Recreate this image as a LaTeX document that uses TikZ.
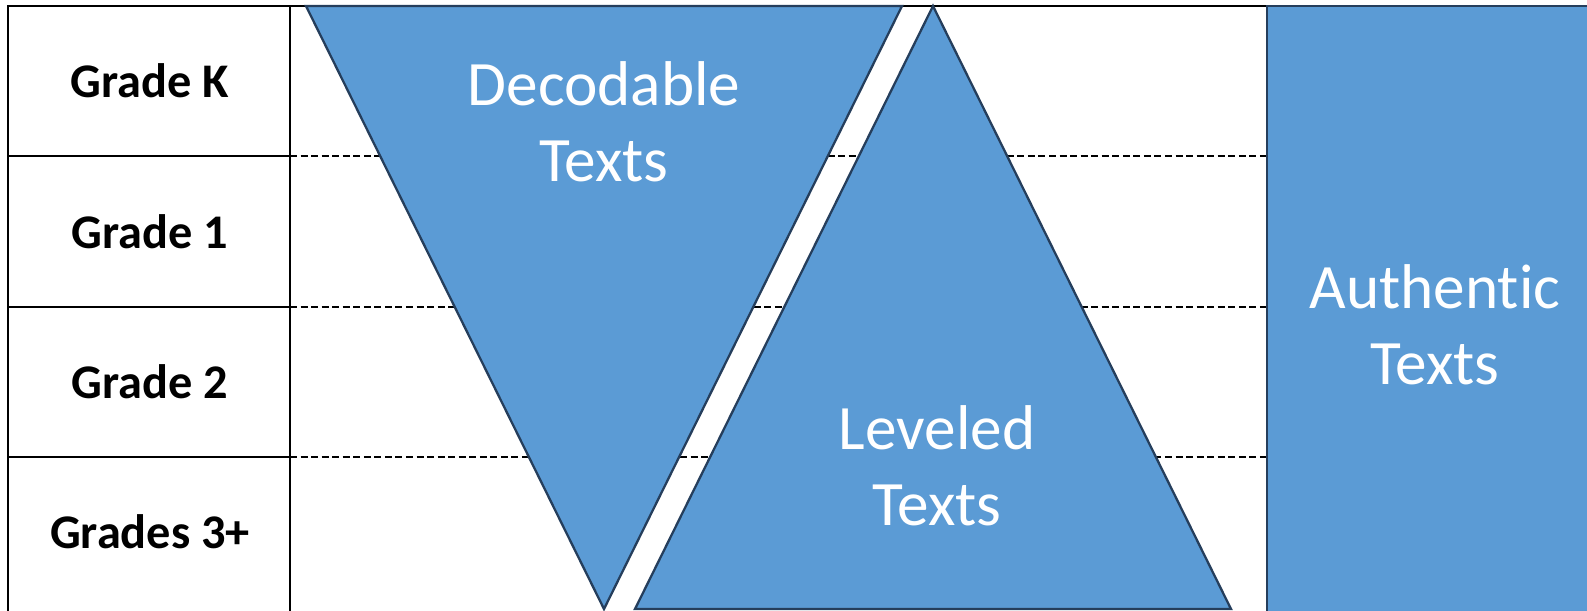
\documentclass[tikz,border=0pt]{standalone}
\usepackage{fontspec}
\setmainfont{Carlito}[Ligatures=NoCommon]
\usetikzlibrary{positioning}
\definecolor{bandblue}{RGB}{91,155,213}
\definecolor{edgeblue}{RGB}{37,62,92}

\begin{document}
\begin{tikzpicture}[x=0.02cm, y=-0.02cm,
    gridline/.style={black, line width=1.3pt},
    levelline/.style={black, line width=1.4pt, dash pattern=on 4pt off 2pt},
    band/.style={fill=bandblue, draw=edgeblue, line width=1.3pt},
    grade/.style={font=\fontsize{27.5}{32}\selectfont\bfseries},
    bandlabel/.style={text=white, align=center, font=\fontsize{36}{43}\selectfont}]
    \useasboundingbox (0,0) rectangle (1587,610);
    % Grade rows
    \foreach \y in {156,307,457} {
        \draw[gridline] (8,\y) -- (290,\y);
        \draw[levelline] (290,\y) -- (1267,\y);
    }
    \draw[gridline] (8,614) -- (8,6) -- (1267,6);
    \draw[gridline] (290,6) -- (290,614);
    % Text types
    \draw[band] (306,6) -- (902,6) -- (604,609) -- cycle;
    \draw[band] (933,6) -- (1231,609) -- (635,609) -- cycle;
    \draw[band] (1267,616) rectangle (1600,6);
    % Labels
    \node[grade] (gradeK) at (150,81) {Grade K};
    \node[grade] (gradeA) at (150,232) {Grade 1};
    \node[grade] (gradeB) at (150,382) {Grade 2};
    \node[grade] (gradeC) at (150,532) {Grades 3+};
    \node[bandlabel] (decodable) at (604,122) {Decodable\\Texts};
    \node[bandlabel] (leveled) at (937,466) {Leveled\\Texts};
    \node[bandlabel] (authentic) at (1435,325) {Authentic\\Texts};
\end{tikzpicture}
\end{document}
